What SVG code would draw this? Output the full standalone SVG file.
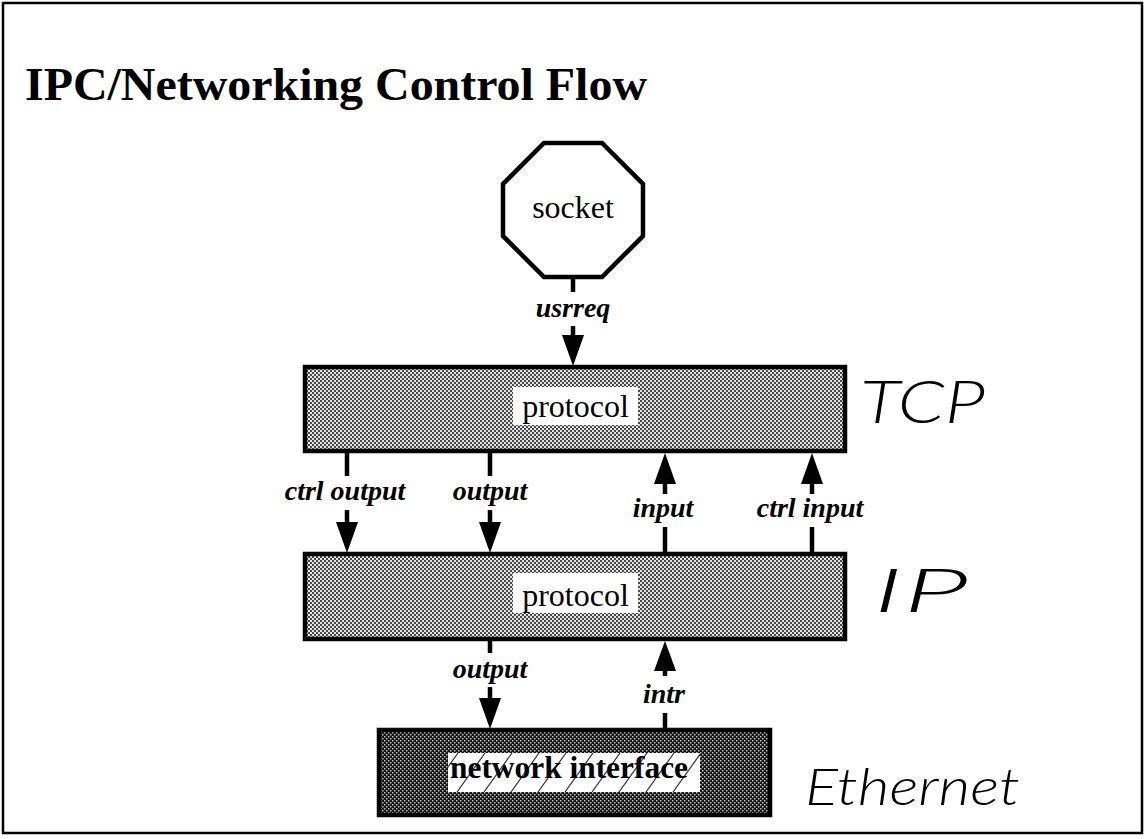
<svg xmlns="http://www.w3.org/2000/svg" width="1145" height="839" viewBox="0 0 1145 839">
<style>
.frame{fill:#fff;stroke:#000;stroke-width:2.5}
.title{font-family:"Liberation Serif","Times New Roman",serif;font-weight:bold;font-size:46px;fill:#000}
.nodetext{font-family:"Liberation Serif","Times New Roman",serif;font-size:32px;fill:#000;text-anchor:middle}
.lbl{font-family:"Liberation Serif","Times New Roman",serif;font-weight:bold;font-style:italic;font-size:28px;fill:#000;text-anchor:middle}
.box{stroke:#000;stroke-width:4.5}
.gray{fill:url(#dither)}
.dark{fill:url(#darkdither)}
.white{fill:#fff}
.wire{stroke:#000;stroke-width:4.5;fill:none}
.head{fill:#000}
.hand{font-family:"Lato","Inter","DejaVu Sans",sans-serif;font-weight:300;font-style:italic;fill:#000}
.hatch{stroke:#333;stroke-width:1.2}
</style>
<defs>
<pattern id="dither" width="4" height="4" patternUnits="userSpaceOnUse">
<rect width="4" height="4" fill="#e2e2e2"/>
<rect x="0" y="0" width="2" height="2" fill="#4a4a4a"/>
<rect x="2" y="2" width="2" height="2" fill="#4a4a4a"/>
</pattern>
<pattern id="darkdither" width="4" height="4" patternUnits="userSpaceOnUse">
<rect width="4" height="4" fill="#151515"/>
<rect x="0" y="0" width="1.5" height="1.5" fill="#bdbdbd"/>
<rect x="2" y="2" width="1.5" height="1.5" fill="#bdbdbd"/>
</pattern>
<clipPath id="niclip"><rect x="448" y="753" width="252" height="39"/></clipPath>
</defs>

<rect class="frame" x="3" y="3" width="1139" height="830"/>
<text class="title" x="25" y="100" textLength="622" lengthAdjust="spacingAndGlyphs">IPC/Networking Control Flow</text>

<g id="socket">
<polygon class="box" fill="#fff" points="544,143 602,143 643,184 643,236 602,277 544,277 503,236 503,184"/>
<text class="nodetext" x="573" y="218" font-size="31">socket</text>
</g>

<g id="tcp-protocol">
<rect class="box gray" x="305" y="367" width="540" height="84"/>
<rect class="white" x="513" y="387" width="125" height="38"/>
<text class="nodetext" x="575.5" y="417">protocol</text>
</g>

<g id="ip-protocol">
<rect class="box gray" x="305" y="554" width="540" height="85"/>
<rect class="white" x="513" y="573" width="125" height="40"/>
<text class="nodetext" x="575.5" y="606">protocol</text>
</g>

<g id="network-interface">
<rect class="box dark" x="379" y="730" width="391" height="85"/>
<rect class="white" x="448" y="753" width="252" height="39"/>
<g clip-path="url(#niclip)">
<line class="hatch" x1="430" y1="792" x2="458" y2="753"/>
<line class="hatch" x1="457" y1="792" x2="485" y2="753"/>
<line class="hatch" x1="484" y1="792" x2="512" y2="753"/>
<line class="hatch" x1="511" y1="792" x2="539" y2="753"/>
<line class="hatch" x1="538" y1="792" x2="566" y2="753"/>
<line class="hatch" x1="565" y1="792" x2="593" y2="753"/>
<line class="hatch" x1="592" y1="792" x2="620" y2="753"/>
<line class="hatch" x1="619" y1="792" x2="647" y2="753"/>
<line class="hatch" x1="646" y1="792" x2="674" y2="753"/>
<line class="hatch" x1="673" y1="792" x2="701" y2="753"/>
</g>
<text class="nodetext" x="569" y="778" textLength="238" lengthAdjust="spacingAndGlyphs" font-size="33" font-weight="bold">network interface</text>
</g>

<g id="connectors">
<line class="wire" x1="573" y1="277" x2="573" y2="292"/>
<text class="lbl" x="573" y="317">usrreq</text>
<line class="wire" x1="573" y1="326" x2="573" y2="338"/>
<polygon class="head" points="562,335 584,335 573,366"/>
<line class="wire" x1="347" y1="453" x2="347" y2="476"/>
<text class="lbl" x="345" y="500">ctrl output</text>
<line class="wire" x1="347" y1="510" x2="347" y2="525"/>
<polygon class="head" points="336,522 358,522 347,553"/>
<line class="wire" x1="490" y1="453" x2="490" y2="476"/>
<text class="lbl" x="490" y="500">output</text>
<line class="wire" x1="490" y1="510" x2="490" y2="525"/>
<polygon class="head" points="479,522 501,522 490,553"/>
<polygon class="head" points="665,453 654,484 676,484"/>
<line class="wire" x1="665" y1="481" x2="665" y2="494"/>
<text class="lbl" x="663" y="517">input</text>
<line class="wire" x1="665" y1="527" x2="665" y2="553"/>
<polygon class="head" points="812,453 801,484 823,484"/>
<line class="wire" x1="812" y1="481" x2="812" y2="494"/>
<text class="lbl" x="810" y="517">ctrl input</text>
<line class="wire" x1="812" y1="527" x2="812" y2="553"/>
<line class="wire" x1="490" y1="641" x2="490" y2="653"/>
<text class="lbl" x="490" y="678">output</text>
<line class="wire" x1="490" y1="687" x2="490" y2="701"/>
<polygon class="head" points="479,698 501,698 490,729"/>
<polygon class="head" points="665,641 654,671 676,671"/>
<line class="wire" x1="665" y1="668" x2="665" y2="676"/>
<text class="lbl" x="664" y="703">intr</text>
<line class="wire" x1="665" y1="713" x2="665" y2="729"/>
</g>

<g id="annotations">
<text class="hand" x="860" y="423" font-size="60" textLength="125" lengthAdjust="spacingAndGlyphs">TCP</text>
<text class="hand" x="873" y="612" font-size="62" textLength="95" lengthAdjust="spacingAndGlyphs">IP</text>
<text class="hand" x="805" y="805" font-size="52" textLength="215" lengthAdjust="spacingAndGlyphs">Ethernet</text>
</g>
</svg>
